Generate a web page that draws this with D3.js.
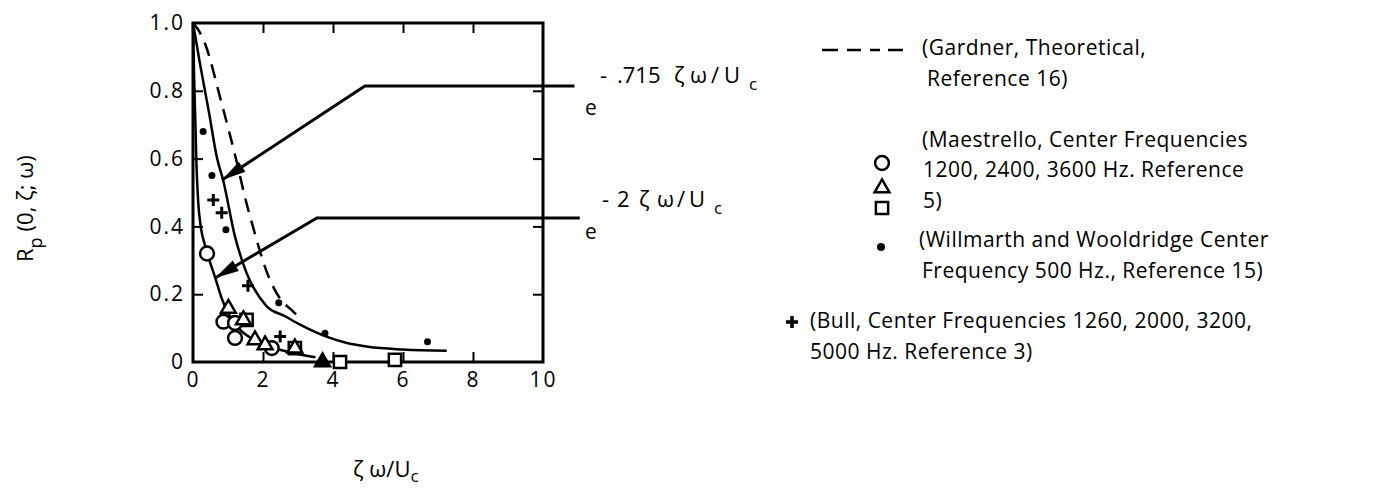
<!DOCTYPE html>
<html>
<head>
<meta charset="utf-8">
<script src="https://cdn.jsdelivr.net/npm/d3@7"></script>
<style>
  html, body { margin: 0; padding: 0; background: #fff; }
  svg { display: block; }
  text { font-family: "Open Sans", "DejaVu Sans", sans-serif; fill: #000; }
</style>
</head>
<body>
<svg id="chart" width="1373" height="491"></svg>
<script>
// ---------------- data ----------------
const xTicks = [0, 2, 4, 6, 8, 10];
const xTickLabels = ["0", "2", "4", "6", "8", "10"];
const yTicks = [0, 0.2, 0.4, 0.6, 0.8, 1.0];
const yTickLabels = ["0", "0.2", "0.4", "0.6", "0.8", "1.0"];

// Gardner theoretical (dashed)
const gardnerCurve = [[0,1.0],[0.15,0.98],[0.34,0.94],[0.8,0.77],[1.25,0.59],[1.5,0.48],[1.71,0.40],[2.11,0.265],[2.5,0.185],[2.8,0.155],[3.05,0.13]];
// solid curve  e^(-.715 ζω/Uc)
const curve715 = [[0,1.0],[0.2,0.88],[0.45,0.74],[0.69,0.60],[0.86,0.537],[1.2,0.37],[1.45,0.285],[2.1,0.165],[2.63,0.135],[3.06,0.11],[3.5,0.088],[3.83,0.074],[4.4,0.056],[5.0,0.045],[6.0,0.037],[7.25,0.033]];
// solid curve  e^(-2 ζω/Uc)
const curve2 = [[0,1.0],[0.03,0.85],[0.07,0.70],[0.1,0.58],[0.15,0.47],[0.22,0.40],[0.34,0.345],[0.5,0.29],[0.63,0.25],[0.83,0.185],[1.0,0.145],[1.3,0.10],[1.7,0.068],[2.2,0.045],[2.8,0.028],[3.5,0.014]];

// Maestrello
const maestrelloCircles = [[0.4,0.32],[0.87,0.119],[1.2,0.115],[1.2,0.071],[2.25,0.041]];
const maestrelloTriangles = [[1.01,0.158],[1.44,0.124],[1.77,0.065],[2.06,0.05],[2.91,0.041]];
const maestrelloSquares = [[1.53,0.124],[2.91,0.041],[4.2,0.0],[5.77,0.006]];
const maestrelloSolidTriangles = [[3.7,0.0]];
// Willmarth and Wooldridge
const willmarthDots = [[0.29,0.68],[0.54,0.55],[0.94,0.39],[2.45,0.175],[3.77,0.085],[6.7,0.06]];
// Bull
const bullPlus = [[0.58,0.478],[0.82,0.44],[1.57,0.225],[2.49,0.075]];

// annotation arrows (data coordinates)
const arrow715 = [[10.9,0.814],[4.91,0.814],[0.83,0.537]];
const arrow2 = [[11.05,0.425],[3.54,0.425],[0.63,0.248]];

// ---------------- drawing ----------------
const svg = d3.select("#chart");
const x = d3.scaleLinear().domain([0, 10]).range([193, 543]);
const y = d3.scaleLinear().domain([0, 1]).range([362, 23]);

const line = d3.line().x(d => x(d[0])).y(d => y(d[1])).curve(d3.curveMonotoneX);
const polyline = d3.line().x(d => x(d[0])).y(d => y(d[1]));

// axes (inward ticks)
const gL = svg.append("g").attr("transform", `translate(${x(0)},0)`)
  .call(d3.axisLeft(y).tickValues(yTicks).tickSizeInner(-10).tickSizeOuter(0).tickPadding(8)
    .tickFormat((d, i) => yTickLabels[i]));
const gB = svg.append("g").attr("transform", `translate(0,${y(0)})`)
  .call(d3.axisBottom(x).tickValues(xTicks).tickSizeInner(-10).tickSizeOuter(0).tickPadding(10)
    .tickFormat((d, i) => xTickLabels[i]));
const gT = svg.append("g").attr("transform", `translate(0,${y(1)})`)
  .call(d3.axisTop(x).tickValues(xTicks.slice(1, -1)).tickSizeInner(-10).tickSizeOuter(0).tickFormat(""));
const gR = svg.append("g").attr("transform", `translate(${x(10)},0)`)
  .call(d3.axisRight(y).tickValues(yTicks.slice(1, -1)).tickSizeInner(-10).tickSizeOuter(0).tickFormat(""));

[gL, gB, gT, gR].forEach(g => {
  g.select(".domain").remove();
  g.selectAll(".tick line").attr("stroke", "#000").attr("stroke-width", 2);
  g.selectAll(".tick text").attr("font-size", 21).attr("font-family", "Open Sans").attr("fill", "#000")
    .attr("letter-spacing", 2);
});
gL.selectAll(".tick line").filter(d => d === 0 || d === 1).remove();
gB.selectAll(".tick line").filter(d => d === 0 || d === 10).remove();

// frame
svg.append("rect")
  .attr("x", x(0)).attr("y", y(1))
  .attr("width", x(10) - x(0)).attr("height", y(0) - y(1))
  .attr("fill", "none").attr("stroke", "#000").attr("stroke-width", 3);

// curves
svg.append("path").datum(gardnerCurve).attr("d", line)
  .attr("fill", "none").attr("stroke", "#000").attr("stroke-width", 2.5).attr("stroke-dasharray", "14,9");
svg.append("path").datum(curve715).attr("d", line)
  .attr("fill", "none").attr("stroke", "#000").attr("stroke-width", 2.5);
svg.append("path").datum(curve2).attr("d", line)
  .attr("fill", "none").attr("stroke", "#000").attr("stroke-width", 2.5);

// arrows
function drawArrow(pts) {
  svg.append("path").datum(pts).attr("d", polyline)
    .attr("fill", "none").attr("stroke", "#000").attr("stroke-width", 3).attr("stroke-linejoin", "miter");
  const p1 = pts[pts.length - 2], p2 = pts[pts.length - 1];
  const x1 = x(p1[0]), y1 = y(p1[1]), x2 = x(p2[0]), y2 = y(p2[1]);
  const ang = Math.atan2(y2 - y1, x2 - x1);
  const len = 24, hw = 6;
  const bx = x2 - len * Math.cos(ang), by = y2 - len * Math.sin(ang);
  const nx = -Math.sin(ang), ny = Math.cos(ang);
  svg.append("path")
    .attr("d", `M${x2},${y2}L${bx + hw * nx},${by + hw * ny}L${bx - hw * nx},${by - hw * ny}Z`)
    .attr("fill", "#000");
}
drawArrow(arrow715);
drawArrow(arrow2);

// markers
const symCircle = d3.symbol().type(d3.symbolCircle).size(150);
const symTri = d3.symbol().type(d3.symbolTriangle).size(95);
const symSquare = d3.symbol().type(d3.symbolSquare).size(150);

function drawSymbols(data, sym, filled) {
  svg.append("g").selectAll("path").data(data).join("path")
    .attr("transform", d => `translate(${x(d[0])},${y(d[1])})`)
    .attr("d", sym)
    .attr("fill", filled ? "#000" : "#fff")
    .attr("stroke", "#000").attr("stroke-width", 2.5);
}
drawSymbols(maestrelloSquares, symSquare, false);
drawSymbols(maestrelloCircles, symCircle, false);
drawSymbols(maestrelloTriangles, symTri, false);
drawSymbols(maestrelloSolidTriangles, symTri, true);

svg.append("g").selectAll("circle").data(willmarthDots).join("circle")
  .attr("cx", d => x(d[0])).attr("cy", d => y(d[1])).attr("r", 3.5).attr("fill", "#000");

const plusPath = "M-6,0H6M0,-6V6";
svg.append("g").selectAll("path").data(bullPlus).join("path")
  .attr("transform", d => `translate(${x(d[0])},${y(d[1])})`)
  .attr("d", plusPath).attr("stroke", "#000").attr("stroke-width", 3).attr("fill", "none");

// annotations for the exponentials
function expLabel(eY, supY, pieces, subX) {
  svg.append("text").attr("x", 585).attr("y", eY).attr("font-size", 21).text("e");
  const t = svg.append("text").attr("y", supY).attr("font-size", 22);
  pieces.forEach(p => t.append("tspan").attr("x", p[0]).text(p[1]));
  svg.append("text").attr("x", subX).attr("y", supY + 7).attr("font-size", 17).text("c");
}
expLabel(115, 83, [[600, "-"], [617, ".715"], [674, "ζ"], [690, "ω"], [711, "/"], [724, "U"]], 749);
expLabel(239, 207, [[602, "-"], [617, "2"], [639, "ζ"], [657, "ω"], [677, "/"], [689, "U"]], 714);

// axis titles
const yt = svg.append("text").attr("transform", "translate(33,262) rotate(-90)").attr("font-size", 22);
yt.append("tspan").text("R");
yt.append("tspan").attr("dy", 9).attr("font-size", 18).text("p");
yt.append("tspan").attr("dy", -9).attr("dx", 6).text("(0, ζ; ω)");

const xt = svg.append("text").attr("x", 353).attr("y", 477).attr("font-size", 22);
xt.append("tspan").text("ζ ω/U");
xt.append("tspan").attr("dy", 5).attr("font-size", 17).text("c");

// legend
const lg = svg.append("g");
lg.append("line").attr("x1", 822).attr("x2", 903).attr("y1", 50).attr("y2", 50)
  .attr("stroke", "#000").attr("stroke-width", 2.5).attr("stroke-dasharray", "16,9,14,9,10,8");
const legendLines = [
  [922, 55, "(Gardner, Theoretical,"],
  [927, 86, "Reference 16)"],
  [922, 147, "(Maestrello, Center Frequencies"],
  [923, 177, "1200, 2400, 3600 Hz. Reference"],
  [923, 208, "5)"],
  [919, 247, "(Willmarth and Wooldridge Center"],
  [922, 278, "Frequency 500 Hz., Reference 15)"],
  [810, 328, "(Bull, Center Frequencies 1260, 2000, 3200,"],
  [810, 359, "5000 Hz. Reference 3)"]
];
lg.selectAll("text").data(legendLines).join("text")
  .attr("x", d => d[0]).attr("y", d => d[1]).attr("font-size", 21).attr("letter-spacing", 0.5).text(d => d[2]);
lg.append("path").attr("transform", "translate(882,163)").attr("d", d3.symbol().type(d3.symbolCircle).size(150))
  .attr("fill", "#fff").attr("stroke", "#000").attr("stroke-width", 2.5);
lg.append("path").attr("transform", "translate(882,188)").attr("d", d3.symbol().type(d3.symbolTriangle).size(95))
  .attr("fill", "#fff").attr("stroke", "#000").attr("stroke-width", 2.5);
lg.append("path").attr("transform", "translate(882,208)").attr("d", d3.symbol().type(d3.symbolSquare).size(150))
  .attr("fill", "#fff").attr("stroke", "#000").attr("stroke-width", 2.5);
lg.append("circle").attr("cx", 881).attr("cy", 247).attr("r", 4).attr("fill", "#000");
lg.append("path").attr("transform", "translate(792,322)").attr("d", plusPath)
  .attr("stroke", "#000").attr("stroke-width", 3.5).attr("fill", "none");
</script>
</body>
</html>
